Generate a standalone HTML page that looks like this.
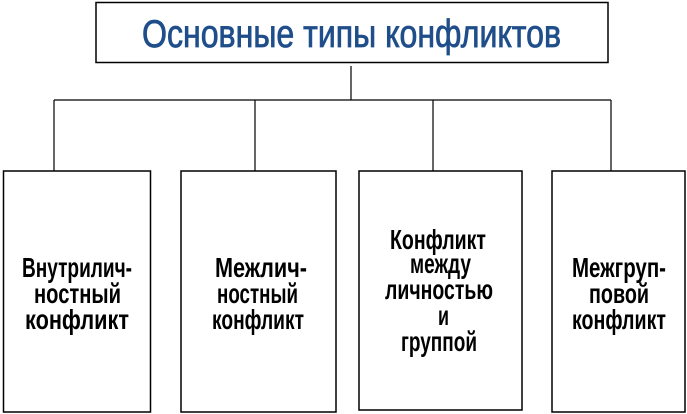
<!DOCTYPE html>
<html><head><meta charset="utf-8"><style>html,body{margin:0;padding:0;background:#fff}svg{display:block}</style></head>
<body>
<svg width="687" height="414" viewBox="0 0 687 414" xmlns="http://www.w3.org/2000/svg">
<g fill="#fff" stroke="#000" stroke-width="1.5">
<rect x="96" y="2.5" width="512" height="60"/>
<rect x="3.5" y="171" width="147" height="241"/>
<rect x="181" y="171" width="155" height="241"/>
<rect x="359" y="171" width="163" height="239"/>
<rect x="552" y="171" width="133" height="241"/>
</g>
<g stroke="#000" stroke-width="1.2" fill="none">
<line x1="351" y1="66" x2="351" y2="100"/>
<line x1="54" y1="100" x2="611" y2="100"/>
<line x1="54" y1="100" x2="54" y2="171"/>
<line x1="255" y1="100" x2="255" y2="171"/>
<line x1="433" y1="100" x2="433" y2="171"/>
<line x1="611" y1="100" x2="611" y2="171"/>
</g>
<text x="142" y="47" font-family="Liberation Sans, sans-serif" font-size="39" fill="#1f4e8a" stroke="#1f4e8a" stroke-width="0.8" textLength="419" lengthAdjust="spacingAndGlyphs">Основные типы конфликтов</text>
<g font-family="Liberation Sans, sans-serif" font-size="28" font-weight="bold" fill="#000">
<text x="22" y="277" textLength="110" lengthAdjust="spacingAndGlyphs">Внутрилич-</text>
<text x="34" y="303" textLength="87" lengthAdjust="spacingAndGlyphs">ностный</text>
<text x="25" y="329" textLength="104" lengthAdjust="spacingAndGlyphs">конфликт</text>
<text x="215" y="277" textLength="92" lengthAdjust="spacingAndGlyphs">Межлич-</text>
<text x="217" y="303" textLength="81" lengthAdjust="spacingAndGlyphs">ностный</text>
<text x="212" y="329" textLength="92" lengthAdjust="spacingAndGlyphs">конфликт</text>
<text x="390" y="249" textLength="96" lengthAdjust="spacingAndGlyphs">Конфликт</text>
<text x="410" y="273" textLength="61" lengthAdjust="spacingAndGlyphs">между</text>
<text x="385" y="299" textLength="108" lengthAdjust="spacingAndGlyphs">личностью</text>
<text x="438" y="325" textLength="11" lengthAdjust="spacingAndGlyphs">и</text>
<text x="401" y="351" textLength="76" lengthAdjust="spacingAndGlyphs">группой</text>
<text x="572" y="277" textLength="94" lengthAdjust="spacingAndGlyphs">Межгруп-</text>
<text x="589" y="303" textLength="60" lengthAdjust="spacingAndGlyphs">повой</text>
<text x="572" y="329" textLength="94" lengthAdjust="spacingAndGlyphs">конфликт</text>
</g>
</svg>
</body></html>
